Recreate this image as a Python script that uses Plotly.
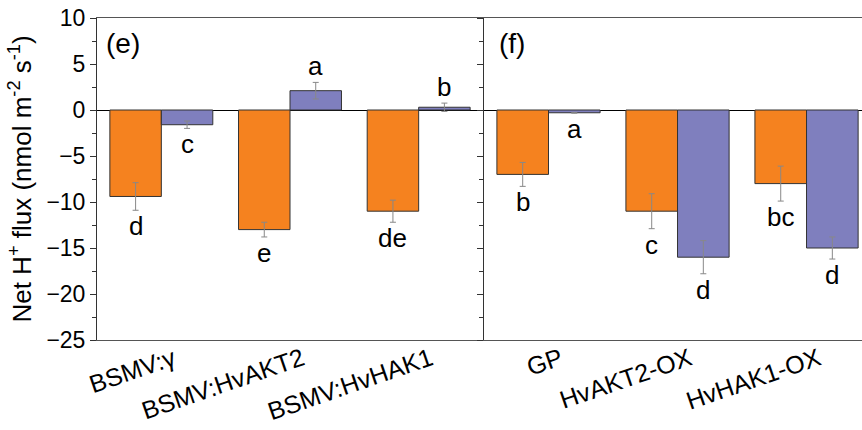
import plotly.graph_objects as go

# ---- data ----
cats_e = ["BSMV:γ", "BSMV:HvAKT2", "BSMV:HvHAK1"]
orange_e = [-9.4, -13.0, -11.0]
orange_e_err = [1.5, 0.8, 1.2]
blue_e = [-1.6, 2.1, 0.3]
blue_e_err = [0.4, 0.9, 0.45]
letters_orange_e = ["d", "e", "de"]
letters_blue_e = ["c", "a", "b"]

cats_f = ["GP", "HvAKT2-OX", "HvHAK1-OX"]
orange_f = [-7.0, -11.0, -8.0]
orange_f_err = [1.3, 1.9, 1.9]
blue_f = [-0.3, -16.0, -15.0]
blue_f_err = [0.05, 1.8, 1.2]
letters_orange_f = ["b", "c", "bc"]
letters_blue_f = ["a", "d", "d"]

y_ticks = [10, 5, 0, -5, -10, -15, -20, -25]

ORANGE = "#F5821F"
PURPLE = "#7F7FBE"
FONT = "Liberation Sans, Arial, sans-serif"

fig = go.Figure()

def add_pair(cats, ov, oe, bv, be, xa, ya):
    for vals, errs, col in ((ov, oe, ORANGE), (bv, be, PURPLE)):
        fig.add_trace(go.Bar(
            x=list(range(len(cats))), y=vals, xaxis=xa, yaxis=ya,
            marker=dict(color=col, line=dict(color="#333333", width=1)),
            error_y=dict(type="data", array=errs, color="#888888", thickness=1, width=3),
            showlegend=False, hoverinfo="skip"))

add_pair(cats_e, orange_e, orange_e_err, blue_e, blue_e_err, "x", "y")
add_pair(cats_f, orange_f, orange_f_err, blue_f, blue_f_err, "x2", "y2")

def add_letters(vals, errs, letters, offset, xref, yref):
    for i, (v, e, t) in enumerate(zip(vals, errs, letters)):
        if v >= 0:
            y, shift = v + e, 16
        else:
            y, shift = v - e, -16
        fig.add_annotation(x=i + offset, y=y, xref=xref, yref=yref, text=t,
                           showarrow=False, yshift=shift, yanchor="middle",
                           font=dict(size=26, color="black", family=FONT))

add_letters(orange_e, orange_e_err, letters_orange_e, -0.2, "x", "y")
add_letters(blue_e, blue_e_err, letters_blue_e, 0.2, "x", "y")
add_letters(orange_f, orange_f_err, letters_orange_f, -0.2, "x2", "y2")
add_letters(blue_f, blue_f_err, letters_blue_f, 0.2, "x2", "y2")

fig.add_annotation(x=0.017, y=0.92, xref="x domain", yref="y domain", text="(e)",
                   showarrow=False, xanchor="left", yanchor="middle",
                   font=dict(size=28, color="black", family=FONT))
fig.add_annotation(x=0.035, y=0.92, xref="x2 domain", yref="y2 domain", text="(f)",
                   showarrow=False, xanchor="left", yanchor="middle",
                   font=dict(size=28, color="black", family=FONT))

W, H = 862, 430
L, R, T, B = 97, 0, 18, 90
pw = W - L - R
d1 = (483 - L) / pw
d2 = (484 - L) / pw

yaxis_common = dict(range=[-25, 10], showline=True, linecolor="#333333", linewidth=1,
                    zeroline=True, zerolinecolor="black", zerolinewidth=1.3,
                    showgrid=False, ticks="outside", ticklen=6, tickcolor="#333333",
                    tickvals=y_ticks, automargin=False,
                    minor=dict(ticks="outside", ticklen=4, dtick=2.5, tickcolor="#333333", showgrid=False))

xaxis_common = dict(range=[-0.5, 2.5], tickvals=[0, 1, 2], tickangle=-19,
                    tickfont=dict(size=25), showline=True, mirror=True,
                    linecolor="#555555", linewidth=1, ticks="", showgrid=False,
                    zeroline=False, automargin=False, ticklabelshift=12, ticklabelstandoff=-6)

fig.update_layout(
    width=W, height=H,
    margin=dict(l=L, r=R, t=T, b=B),
    paper_bgcolor="white", plot_bgcolor="white",
    barmode="group", bargap=0.2, bargroupgap=0,
    font=dict(family=FONT, color="black"),
    xaxis=dict(xaxis_common, domain=[0, d1], ticktext=cats_e),
    xaxis2=dict(xaxis_common, domain=[d2, 1], ticktext=cats_f, anchor="y2",
                range=[-0.5, 2.43]),
    yaxis=dict(yaxis_common, mirror=True, tickfont=dict(size=23),
               title=dict(text="Net H<sup>+</sup> flux (nmol m<sup>-2</sup> s<sup>-1</sup>)",
                          font=dict(size=26), standoff=7)),
    yaxis2=dict(yaxis_common, anchor="x2", showticklabels=False),
)

fig.write_html("out.html", config={"displayModeBar": False},
               post_script="document.body.style.margin='0px';document.body.style.overflow='hidden';")
